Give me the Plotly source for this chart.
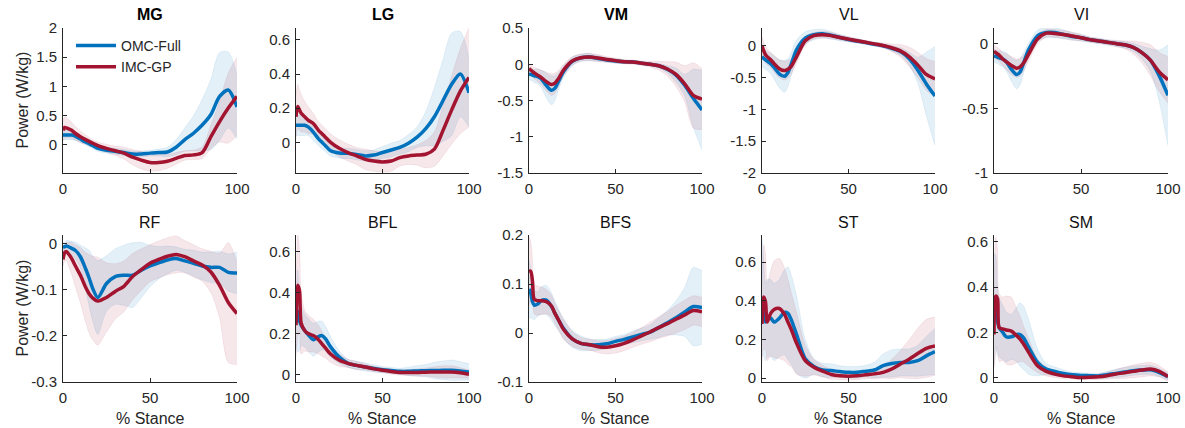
import plotly.graph_objects as go

# % stance sample points
stance = [0, 1, 2, 3, 5, 7, 10, 13, 15, 17, 20, 25, 30, 35, 40, 45, 50, 55, 60, 65, 70, 75, 80, 85, 90, 95, 100]

muscles = ["MG", "LG", "VM", "VL", "VI", "RF", "BFL", "BFS", "ST", "SM"]

# ---- mean power (W/kg) and SD, OMC-Full and IMC-GP ----
MG_omc = [0.17, 0.17, 0.17, 0.17, 0.17, 0.15, 0.10, 0.05, 0.02, -0.01, -0.06, -0.09, -0.11, -0.13, -0.155, -0.155, -0.14, -0.13, -0.12, -0.04, 0.09, 0.2, 0.34, 0.52, 0.83, 0.94, 0.65]
MG_imc = [0.25, 0.30, 0.29, 0.28, 0.25, 0.2, 0.14, 0.09, 0.06, 0.03, -0.01, -0.06, -0.10, -0.14, -0.21, -0.26, -0.30, -0.30, -0.28, -0.23, -0.18, -0.17, -0.13, 0.14, 0.40, 0.63, 0.83]
MG_omc_sd = [0.08, 0.08, 0.08, 0.08, 0.08, 0.07, 0.06, 0.05, 0.05, 0.05, 0.05, 0.05, 0.05, 0.05, 0.05, 0.05, 0.05, 0.06, 0.08, 0.13, 0.2, 0.3, 0.44, 0.6, 0.75, 0.65, 0.55]
MG_imc_sd = [0.18, 0.18, 0.17, 0.16, 0.14, 0.12, 0.1, 0.08, 0.07, 0.06, 0.06, 0.07, 0.08, 0.1, 0.13, 0.15, 0.15, 0.14, 0.12, 0.1, 0.08, 0.08, 0.1, 0.2, 0.35, 0.6, 0.67]

LG_omc = [0.10, 0.10, 0.10, 0.10, 0.10, 0.09, 0.06, 0.02, 0.0, -0.02, -0.05, -0.063, -0.065, -0.072, -0.08, -0.075, -0.06, -0.045, -0.03, -0.005, 0.03, 0.08, 0.15, 0.245, 0.34, 0.40, 0.29]
LG_imc = [0.15, 0.21, 0.19, 0.17, 0.15, 0.13, 0.11, 0.07, 0.05, 0.03, 0.0, -0.035, -0.06, -0.08, -0.10, -0.11, -0.115, -0.11, -0.09, -0.08, -0.075, -0.07, -0.04, 0.07, 0.19, 0.30, 0.38]
LG_omc_sd = [0.06, 0.06, 0.06, 0.06, 0.06, 0.05, 0.05, 0.04, 0.04, 0.035, 0.03, 0.03, 0.03, 0.03, 0.03, 0.03, 0.035, 0.04, 0.04, 0.05, 0.06, 0.1, 0.17, 0.24, 0.30, 0.25, 0.2]
LG_imc_sd = [0.13, 0.13, 0.12, 0.11, 0.09, 0.08, 0.06, 0.05, 0.05, 0.05, 0.05, 0.05, 0.05, 0.05, 0.06, 0.06, 0.06, 0.06, 0.05, 0.05, 0.06, 0.08, 0.1, 0.15, 0.2, 0.25, 0.29]

VM_omc = [-0.14, -0.14, -0.15, -0.16, -0.17, -0.2, -0.29, -0.36, -0.33, -0.24, -0.1, 0.04, 0.09, 0.1, 0.08, 0.06, 0.045, 0.035, 0.03, 0.015, 0.0, -0.02, -0.07, -0.15, -0.29, -0.47, -0.63]
VM_imc = [-0.06, -0.08, -0.10, -0.12, -0.15, -0.18, -0.24, -0.28, -0.26, -0.2, -0.08, 0.045, 0.09, 0.1, 0.085, 0.065, 0.05, 0.035, 0.03, 0.015, 0.0, -0.02, -0.065, -0.14, -0.27, -0.43, -0.48]
VM_omc_sd = [0.08, 0.08, 0.08, 0.09, 0.1, 0.12, 0.17, 0.2, 0.17, 0.12, 0.08, 0.06, 0.05, 0.05, 0.04, 0.03, 0.03, 0.025, 0.02, 0.02, 0.02, 0.03, 0.05, 0.1, 0.15, 0.4, 0.55]
VM_imc_sd = [0.07, 0.07, 0.07, 0.08, 0.09, 0.1, 0.13, 0.15, 0.14, 0.11, 0.08, 0.06, 0.05, 0.05, 0.05, 0.04, 0.035, 0.03, 0.03, 0.03, 0.04, 0.06, 0.1, 0.17, 0.25, 0.45, 0.42]

VL_omc = [-0.17, -0.2, -0.22, -0.24, -0.28, -0.34, -0.44, -0.48, -0.42, -0.28, -0.06, 0.12, 0.175, 0.19, 0.165, 0.13, 0.1, 0.075, 0.05, 0.025, 0.0, -0.04, -0.09, -0.2, -0.38, -0.6, -0.79]
VL_imc = [0.0, -0.08, -0.14, -0.17, -0.22, -0.28, -0.36, -0.39, -0.37, -0.32, -0.17, 0.08, 0.16, 0.175, 0.16, 0.13, 0.105, 0.08, 0.055, 0.03, 0.005, -0.03, -0.08, -0.17, -0.3, -0.45, -0.52]
VL_omc_sd = [0.15, 0.15, 0.15, 0.15, 0.16, 0.18, 0.22, 0.25, 0.22, 0.18, 0.15, 0.1, 0.08, 0.07, 0.06, 0.05, 0.04, 0.035, 0.03, 0.03, 0.03, 0.04, 0.06, 0.1, 0.2, 0.5, 0.78]
VL_imc_sd = [0.15, 0.14, 0.13, 0.12, 0.12, 0.13, 0.14, 0.15, 0.14, 0.12, 0.1, 0.07, 0.05, 0.05, 0.05, 0.04, 0.04, 0.035, 0.03, 0.03, 0.04, 0.06, 0.1, 0.15, 0.2, 0.25, 0.27]

VI_omc = [-0.095, -0.1, -0.105, -0.11, -0.12, -0.14, -0.2, -0.24, -0.22, -0.15, -0.045, 0.06, 0.085, 0.085, 0.07, 0.055, 0.045, 0.03, 0.02, 0.01, 0.0, -0.01, -0.03, -0.07, -0.13, -0.25, -0.40]
VI_imc = [-0.06, -0.07, -0.08, -0.09, -0.12, -0.14, -0.17, -0.19, -0.18, -0.15, -0.08, 0.035, 0.08, 0.078, 0.07, 0.058, 0.045, 0.03, 0.02, 0.01, 0.0, -0.01, -0.03, -0.07, -0.13, -0.22, -0.28]
VI_omc_sd = [0.05, 0.05, 0.05, 0.055, 0.06, 0.07, 0.09, 0.11, 0.1, 0.08, 0.05, 0.045, 0.04, 0.04, 0.035, 0.03, 0.025, 0.02, 0.02, 0.02, 0.02, 0.025, 0.03, 0.05, 0.09, 0.2, 0.39]
VI_imc_sd = [0.05, 0.05, 0.05, 0.05, 0.05, 0.06, 0.07, 0.07, 0.07, 0.06, 0.05, 0.04, 0.03, 0.03, 0.03, 0.03, 0.025, 0.02, 0.02, 0.02, 0.025, 0.03, 0.05, 0.08, 0.12, 0.15, 0.18]

RF_omc = [-0.009, -0.007, -0.006, -0.007, -0.011, -0.015, -0.029, -0.055, -0.075, -0.097, -0.117, -0.087, -0.072, -0.069, -0.069, -0.058, -0.049, -0.042, -0.036, -0.033, -0.038, -0.043, -0.049, -0.052, -0.052, -0.063, -0.064]
RF_imc = [-0.035, -0.02, -0.018, -0.022, -0.033, -0.048, -0.069, -0.095, -0.109, -0.118, -0.125, -0.117, -0.104, -0.093, -0.072, -0.057, -0.043, -0.035, -0.028, -0.024, -0.029, -0.038, -0.047, -0.062, -0.091, -0.128, -0.152]
RF_omc_sd = [0.01, 0.01, 0.012, 0.013, 0.015, 0.018, 0.025, 0.045, 0.06, 0.07, 0.08, 0.06, 0.06, 0.065, 0.07, 0.06, 0.045, 0.035, 0.03, 0.025, 0.025, 0.028, 0.03, 0.033, 0.035, 0.04, 0.045]
RF_imc_sd = [0.015, 0.018, 0.02, 0.025, 0.035, 0.045, 0.06, 0.075, 0.085, 0.09, 0.095, 0.075, 0.06, 0.055, 0.05, 0.045, 0.04, 0.04, 0.04, 0.04, 0.035, 0.035, 0.035, 0.045, 0.07, 0.13, 0.11]

BFL_omc = [0.25, 0.31, 0.265, 0.24, 0.215, 0.195, 0.17, 0.185, 0.19, 0.175, 0.135, 0.085, 0.055, 0.045, 0.037, 0.03, 0.024, 0.02, 0.016, 0.016, 0.018, 0.019, 0.02, 0.021, 0.021, 0.018, 0.013]
BFL_imc = [0.24, 0.435, 0.41, 0.25, 0.215, 0.2, 0.19, 0.17, 0.15, 0.13, 0.1, 0.07, 0.055, 0.045, 0.037, 0.028, 0.021, 0.015, 0.01, 0.01, 0.01, 0.012, 0.013, 0.013, 0.013, 0.009, 0.002]
BFL_omc_sd = [0.1, 0.2, 0.15, 0.1, 0.08, 0.08, 0.08, 0.075, 0.07, 0.06, 0.05, 0.03, 0.02, 0.02, 0.02, 0.018, 0.015, 0.015, 0.015, 0.02, 0.025, 0.03, 0.04, 0.045, 0.05, 0.045, 0.04]
BFL_imc_sd = [0.15, 0.25, 0.2, 0.15, 0.1, 0.09, 0.08, 0.07, 0.06, 0.05, 0.04, 0.03, 0.02, 0.02, 0.015, 0.013, 0.012, 0.012, 0.012, 0.015, 0.018, 0.02, 0.025, 0.03, 0.03, 0.025, 0.02]

BFS_omc = [0.09, 0.081, 0.064, 0.057, 0.059, 0.066, 0.067, 0.054, 0.04, 0.027, 0.009, -0.012, -0.021, -0.024, -0.024, -0.022, -0.017, -0.013, -0.008, -0.003, 0.002, 0.011, 0.021, 0.031, 0.043, 0.054, 0.052]
BFS_imc = [0.126, 0.126, 0.106, 0.069, 0.066, 0.066, 0.064, 0.055, 0.04, 0.027, 0.007, -0.012, -0.021, -0.024, -0.028, -0.029, -0.026, -0.021, -0.014, -0.006, 0.002, 0.011, 0.019, 0.028, 0.037, 0.046, 0.043]
BFS_omc_sd = [0.06, 0.05, 0.035, 0.03, 0.025, 0.028, 0.03, 0.028, 0.025, 0.022, 0.02, 0.017, 0.015, 0.012, 0.011, 0.01, 0.01, 0.01, 0.012, 0.013, 0.015, 0.02, 0.025, 0.035, 0.05, 0.08, 0.075]
BFS_imc_sd = [0.07, 0.06, 0.045, 0.03, 0.03, 0.028, 0.025, 0.022, 0.02, 0.02, 0.02, 0.015, 0.012, 0.011, 0.012, 0.014, 0.015, 0.015, 0.015, 0.017, 0.02, 0.022, 0.025, 0.028, 0.03, 0.03, 0.03]

ST_omc = [0.42, 0.36, 0.29, 0.31, 0.31, 0.29, 0.31, 0.34, 0.335, 0.30, 0.225, 0.1, 0.06, 0.042, 0.039, 0.034, 0.03, 0.03, 0.036, 0.042, 0.065, 0.076, 0.081, 0.081, 0.09, 0.115, 0.137]
ST_imc = [0.28, 0.42, 0.395, 0.29, 0.335, 0.355, 0.36, 0.33, 0.29, 0.25, 0.18, 0.09, 0.056, 0.036, 0.019, 0.012, 0.01, 0.012, 0.017, 0.022, 0.03, 0.047, 0.073, 0.098, 0.127, 0.154, 0.166]
ST_omc_sd = [0.3, 0.25, 0.2, 0.2, 0.2, 0.2, 0.2, 0.22, 0.24, 0.23, 0.2, 0.1, 0.04, 0.035, 0.035, 0.03, 0.03, 0.03, 0.03, 0.04, 0.06, 0.07, 0.07, 0.07, 0.08, 0.1, 0.12]
ST_imc_sd = [0.2, 0.27, 0.25, 0.2, 0.22, 0.25, 0.26, 0.24, 0.22, 0.19, 0.16, 0.08, 0.04, 0.03, 0.025, 0.02, 0.02, 0.02, 0.02, 0.025, 0.03, 0.05, 0.07, 0.1, 0.13, 0.15, 0.15]

SM_omc = [0.30, 0.34, 0.25, 0.22, 0.2, 0.18, 0.18, 0.19, 0.19, 0.175, 0.133, 0.067, 0.037, 0.027, 0.018, 0.012, 0.009, 0.008, 0.007, 0.012, 0.018, 0.024, 0.03, 0.033, 0.034, 0.022, 0.004]
SM_imc = [0.19, 0.36, 0.35, 0.22, 0.215, 0.21, 0.205, 0.185, 0.17, 0.148, 0.11, 0.052, 0.027, 0.015, 0.007, 0.003, 0.0, 0.001, 0.003, 0.008, 0.015, 0.021, 0.027, 0.033, 0.037, 0.027, 0.004]
SM_omc_sd = [0.25, 0.2, 0.15, 0.13, 0.12, 0.11, 0.1, 0.12, 0.14, 0.14, 0.12, 0.06, 0.025, 0.02, 0.015, 0.012, 0.012, 0.012, 0.012, 0.015, 0.018, 0.02, 0.02, 0.02, 0.02, 0.018, 0.015]
SM_imc_sd = [0.15, 0.26, 0.22, 0.15, 0.14, 0.15, 0.15, 0.12, 0.1, 0.08, 0.06, 0.03, 0.02, 0.015, 0.012, 0.01, 0.01, 0.01, 0.012, 0.015, 0.02, 0.025, 0.028, 0.03, 0.03, 0.025, 0.02]

# y-axis limits and ticks per muscle
y_ranges = {"MG": [-0.48, 2], "LG": [-0.18, 0.67], "VM": [-1.5, 0.5], "VL": [-2, 0.28], "VI": [-1, 0.12],
            "RF": [-0.3, 0.018], "BFL": [-0.036, 0.68], "BFS": [-0.1, 0.2], "ST": [-0.02, 0.74], "SM": [-0.02, 0.63]}
y_ticks = {"MG": ["0", "0.5", "1", "1.5", "2"], "LG": ["0", "0.2", "0.4", "0.6"],
           "VM": ["-1.5", "-1", "-0.5", "0", "0.5"], "VL": ["-2", "-1.5", "-1", "-0.5", "0"],
           "VI": ["-1", "-0.5", "0"], "RF": ["-0.3", "-0.2", "-0.1", "0"],
           "BFL": ["0", "0.2", "0.4", "0.6"], "BFS": ["-0.1", "0", "0.1", "0.2"],
           "ST": ["0", "0.2", "0.4", "0.6"], "SM": ["0", "0.2", "0.4", "0.6"]}
x_ticks = ["0", "50", "100"]
bold_titles = ["MG", "LG", "VM"]
x_label = "% Stance"
y_label = "Power (W/kg)"

data = {
    "MG": (MG_omc, MG_omc_sd, MG_imc, MG_imc_sd), "LG": (LG_omc, LG_omc_sd, LG_imc, LG_imc_sd),
    "VM": (VM_omc, VM_omc_sd, VM_imc, VM_imc_sd), "VL": (VL_omc, VL_omc_sd, VL_imc, VL_imc_sd),
    "VI": (VI_omc, VI_omc_sd, VI_imc, VI_imc_sd), "RF": (RF_omc, RF_omc_sd, RF_imc, RF_imc_sd),
    "BFL": (BFL_omc, BFL_omc_sd, BFL_imc, BFL_imc_sd), "BFS": (BFS_omc, BFS_omc_sd, BFS_imc, BFS_imc_sd),
    "ST": (ST_omc, ST_omc_sd, ST_imc, ST_imc_sd), "SM": (SM_omc, SM_omc_sd, SM_imc, SM_imc_sd),
}

BLUE = "#0072BD"
RED = "#A2142F"
BLUE_FILL = "rgba(0,114,189,0.11)"
RED_FILL = "rgba(162,20,47,0.10)"
TXT = "#262626"
FONT = "Liberation Sans, Arial, Helvetica, sans-serif"

W, H = 1185, 428
col_px = [(63, 237), (296, 469), (529, 702), (762, 935), (994, 1168)]
row_px = [(28, 173), (235, 382)]

fig = go.Figure()
annotations = []
layout_axes = {}

for i, m in enumerate(muscles):
    r, c = divmod(i, 5)
    n = i + 1
    xa = "x" if n == 1 else f"x{n}"
    ya = "y" if n == 1 else f"y{n}"
    omc, omc_sd, imc, imc_sd = data[m]
    for mean, sd, fillc, edgec in ((omc, omc_sd, BLUE_FILL, "rgba(0,114,189,0.15)"),
                                   (imc, imc_sd, RED_FILL, "rgba(162,20,47,0.13)")):
        lo = [a - b for a, b in zip(mean, sd)]
        hi = [a + b for a, b in zip(mean, sd)]
        fig.add_trace(go.Scatter(x=stance, y=lo, xaxis=xa, yaxis=ya, mode="lines",
                                 line=dict(color=edgec, width=0.6, shape="spline", smoothing=0.8),
                                 showlegend=False, hoverinfo="skip"))
        fig.add_trace(go.Scatter(x=stance, y=hi, xaxis=xa, yaxis=ya, mode="lines", fill="tonexty",
                                 fillcolor=fillc,
                                 line=dict(color=edgec, width=0.6, shape="spline", smoothing=0.8),
                                 showlegend=False, hoverinfo="skip"))
    fig.add_trace(go.Scatter(x=stance, y=omc, xaxis=xa, yaxis=ya, mode="lines", name="OMC-Full",
                             line=dict(color=BLUE, width=3.5, shape="spline", smoothing=0.8),
                             showlegend=(i == 0), legendgroup="omc"))
    fig.add_trace(go.Scatter(x=stance, y=imc, xaxis=xa, yaxis=ya, mode="lines", name="IMC-GP",
                             line=dict(color=RED, width=3.5, shape="spline", smoothing=0.8),
                             showlegend=(i == 0), legendgroup="imc"))

    x0, x1 = col_px[c]
    y0, y1 = row_px[r]
    xd = [x0 / W, x1 / W]
    yd = [1 - y1 / H, 1 - y0 / H]
    common = dict(showline=True, linecolor=TXT, linewidth=1, ticks="inside", ticklen=4,
                  tickcolor=TXT, tickwidth=1, showgrid=False, zeroline=False, automargin=False,
                  tickfont=dict(family=FONT, size=15, color=TXT), mirror=False)
    xkey = "xaxis" if n == 1 else f"xaxis{n}"
    ykey = "yaxis" if n == 1 else f"yaxis{n}"
    layout_axes[xkey] = dict(domain=xd, range=[0, 100], anchor=ya, tickvals=[0, 50, 100], ticktext=x_ticks,
                             ticklabelstandoff=2, **common)
    layout_axes[ykey] = dict(domain=yd, range=y_ranges[m], anchor=xa,
                             tickvals=[float(t) for t in y_ticks[m]], ticktext=y_ticks[m],
                             ticklabelstandoff=2, **common)

    title = f"<b>{m}</b>" if m in bold_titles else m
    annotations.append(dict(text=title, x=(xd[0] + xd[1]) / 2, y=1 - (y0 - 13) / H, xref="paper", yref="paper",
                            showarrow=False, font=dict(family=FONT, size=16, color="#000000" if m in bold_titles else "#111111"),
                            xanchor="center", yanchor="middle"))
    if r == 1:
        annotations.append(dict(text=x_label, x=(xd[0] + xd[1]) / 2, y=1 - 418 / H, xref="paper", yref="paper",
                                showarrow=False, font=dict(family=FONT, size=16, color=TXT),
                                xanchor="center", yanchor="middle"))
    if c == 0:
        annotations.append(dict(text=y_label, x=22 / W, y=(yd[0] + yd[1]) / 2, xref="paper", yref="paper",
                                showarrow=False, textangle=-90, font=dict(family=FONT, size=16, color=TXT),
                                xanchor="center", yanchor="middle"))

fig.update_layout(
    width=W, height=H, margin=dict(l=0, r=0, t=0, b=0, autoexpand=False),
    paper_bgcolor="white", plot_bgcolor="white",
    font=dict(family=FONT, size=14, color=TXT),
    annotations=annotations,
    legend=dict(x=71 / W, y=1 - 30 / H, xanchor="left", yanchor="top", itemwidth=40,
                bgcolor="rgba(0,0,0,0)", borderwidth=0,
                font=dict(family=FONT, size=14, color=TXT), tracegroupgap=0),
    **layout_axes,
)

fig.write_html("out.html", config={"displayModeBar": False},
               post_script="document.body.style.margin='0px';document.body.style.padding='0px';")
